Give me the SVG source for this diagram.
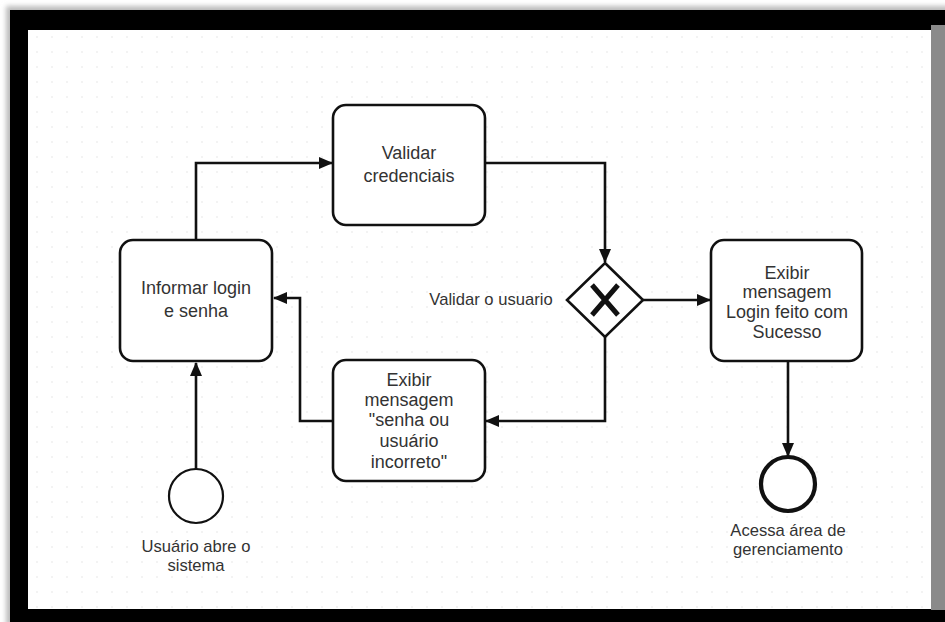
<svg xmlns="http://www.w3.org/2000/svg" width="945" height="622" viewBox="0 0 945 622">
<defs>
<pattern id="dots" x="0" y="0" width="15" height="15" patternUnits="userSpaceOnUse">
<circle cx="7" cy="7" r="0.8" fill="#e4e4e4"/>
</pattern>
<marker id="arr" viewBox="0 0 14 12" refX="13" refY="6" markerWidth="14" markerHeight="12" markerUnits="userSpaceOnUse" orient="auto">
<path d="M0,0 L14,6 L0,12 Z" fill="#111"/>
</marker>
<filter id="blur" x="-5%" y="-5%" width="110%" height="110%"><feGaussianBlur stdDeviation="2.5"/></filter>
</defs>
<style>
.task{fill:#fff;stroke:#111;stroke-width:2.6}
.t{font-family:"Liberation Sans",Arial,sans-serif;font-size:18px;fill:#333;text-anchor:middle}
.lbl{font-family:"Liberation Sans",Arial,sans-serif;font-size:16.6px;fill:#333;text-anchor:middle}
.edge{fill:none;stroke:#111;stroke-width:2.6;marker-end:url(#arr)}
</style>
<rect x="0" y="0" width="945" height="622" fill="#fff"/>
<rect x="6" y="6" width="945" height="620" fill="#bbb" filter="url(#blur)"/>
<rect x="10" y="10" width="935" height="612" fill="#000"/>
<rect x="28" y="30" width="904" height="579" fill="#fff"/>
<rect x="28" y="30" width="904" height="579" fill="url(#dots)"/>
<rect x="931" y="25" width="14" height="585" fill="#8a8a8a"/>

<g id="connectors">
<path class="edge" d="M196,469 L196,363"/>
<path class="edge" d="M196,240 L196,163 L332,163"/>
<path class="edge" d="M485,163 L605,163 L605,262"/>
<path class="edge" d="M643,300 L710,300"/>
<path class="edge" d="M605,337 L605,421 L486,421"/>
<path class="edge" d="M333,421 L300,421 L300,298 L274,298"/>
<path class="edge" d="M788,362 L788,456"/>
</g>

<g id="start">
<circle cx="196" cy="496" r="27" fill="#fff" stroke="#111" stroke-width="2.2"/>
<text class="lbl" x="196" y="552">Usuário abre o</text>
<text class="lbl" x="196" y="571">sistema</text>
</g>

<g id="informar">
<rect class="task" x="120" y="240" width="152" height="121" rx="13"/>
<text class="t" x="196" y="294">Informar login</text>
<text class="t" x="196" y="317">e senha</text>
</g>

<g id="validar">
<rect class="task" x="333" y="105" width="152" height="120" rx="13"/>
<text class="t" x="409" y="159">Validar</text>
<text class="t" x="409" y="182">credenciais</text>
</g>

<g id="gateway">
<path d="M605,263 L643,300 L605,337 L567,300 Z" fill="#fff" stroke="#111" stroke-width="2.6"/>
<path d="M592,285 L618,315 M618,285 L592,315" stroke="#111" stroke-width="5" fill="none"/>
<text class="lbl" x="491" y="305">Validar o usuario</text>
</g>

<g id="erro">
<rect class="task" x="333" y="360" width="152" height="121" rx="13"/>
<text class="t" x="409" y="386">Exibir</text>
<text class="t" x="409" y="406">mensagem</text>
<text class="t" x="409" y="426">"senha ou</text>
<text class="t" x="409" y="447">usuário</text>
<text class="t" x="409" y="468">incorreto"</text>
</g>

<g id="sucesso">
<rect class="task" x="711" y="240" width="151" height="121" rx="13"/>
<text class="t" x="787" y="279">Exibir</text>
<text class="t" x="787" y="298">mensagem</text>
<text class="t" x="787" y="318">Login feito com</text>
<text class="t" x="787" y="338">Sucesso</text>
</g>

<g id="end">
<circle cx="788" cy="484" r="27" fill="#fff" stroke="#111" stroke-width="4.2"/>
<text class="lbl" x="788" y="536">Acessa área de</text>
<text class="lbl" x="788" y="555">gerenciamento</text>
</g>
</svg>
